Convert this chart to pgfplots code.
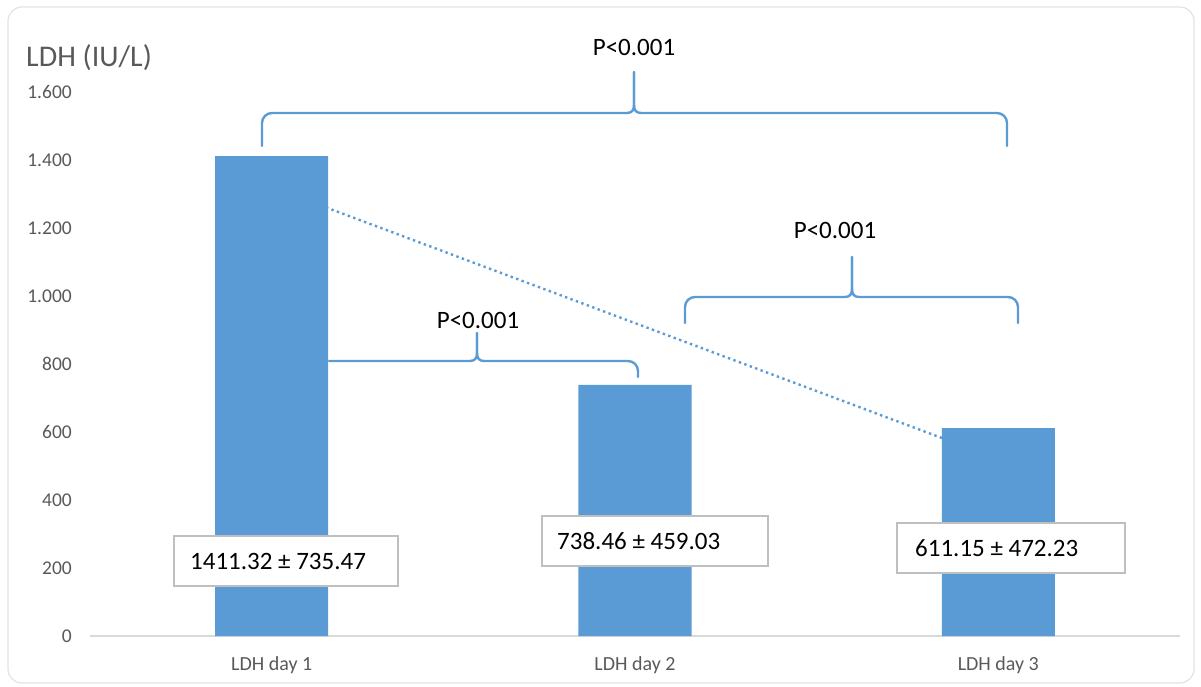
\documentclass[border=0pt]{standalone}
\usepackage{fontspec}
\setmainfont{Carlito}
\usepackage{pgfplots}
\pgfplotsset{compat=1.18}
\definecolor{barblue}{HTML}{5B9BD5}
\definecolor{txtgray}{HTML}{595959}
\definecolor{axgray}{HTML}{D9D9D9}
\definecolor{boxgray}{HTML}{BFBFBF}
\tikzset{bracestyle/.style={barblue, line width=2.4pt, line join=round, line cap=round}}
\newcommand{\Brace}[7]{% xl yb yh xt ytop xr yb2
\draw[bracestyle] (#1,#2) -- (#1,#3+10) .. controls (#1,#3+4.5) and (#1+4.5,#3) .. (#1+10,#3) -- (#4-7,#3) .. controls (#4-2,#3) and (#4,#3-3) .. (#4,#3-8) -- (#4,#5);
\draw[bracestyle] (#4,#5) -- (#4,#3-8) .. controls (#4,#3-3) and (#4+2,#3) .. (#4+7,#3) -- (#6-10,#3) .. controls (#6-4.5,#3) and (#6,#3+4.5) .. (#6,#3+10) -- (#6,#7);}
\begin{document}
\begin{tikzpicture}
\useasboundingbox (0,0) rectangle (1201pt,686pt);
\draw[gray!22, line width=1.2pt, rounded corners=14pt] (8pt,3pt) rectangle (1194pt,679pt);
\begin{axis}[
  at={(90pt,50pt)}, anchor=south west,
  scale only axis, width=1090pt, height=544pt,
  xmin=-0.5, xmax=2.5, ymin=0, ymax=1600,
  axis x line=bottom, axis y line=left,
  x axis line style={-, axgray, line width=1.2pt},
  y axis line style={draw=none},
  major tick length=0pt,
  ytick={0,200,400,600,800,1000,1200,1400,1600},
  scaled y ticks=false,
  /pgf/number format/1000 sep={.},
  /pgf/number format/assume math mode=true,
  yticklabel style={font=\fontsize{19.5}{20}\selectfont, text=txtgray, inner sep=0pt, anchor=east, xshift=-18pt},
  xtick={0,1,2},
  xticklabels={LDH day 1, LDH day 2, LDH day 3},
  xticklabel style={font=\fontsize{20}{20}\selectfont, text=txtgray, inner sep=0pt, anchor=north, yshift=-20pt},
  clip=false,
]
\addplot[barblue, line width=2.4pt, line cap=butt, dash pattern=on 2.4pt off 3.4pt] coordinates {(0,1320.40) (2,520.23)};
\addplot[ybar, bar width=113pt, bar shift=0pt, fill=barblue, draw=none] coordinates {(0,1411.32) (1,738.46) (2,611.15)};
\end{axis}
\begin{scope}[yshift=686pt, x=1pt, y=-1pt]
\Brace{262}{146}{113}{634}{72}{1007}{146}
\Brace{685}{323}{297}{852}{257}{1018}{323}
\draw[bracestyle] (329,361) -- (470,361) .. controls (475,361) and (477,358) .. (477,353) -- (477,333);
\draw[bracestyle] (477,333) -- (477,353) .. controls (477,358) and (479,361) .. (484,361) -- (628,361) .. controls (633.5,361) and (638,365.5) .. (638,371) -- (638,377);
\node[font=\fontsize{25}{25}\selectfont] at (634,47) {P<0.001};
\node[font=\fontsize{25}{25}\selectfont] at (835,230) {P<0.001};
\node[font=\fontsize{25}{25}\selectfont] at (478,320) {P<0.001};
\draw[boxgray, line width=1.4pt, fill=white] (174,536) rectangle (398,586);
\node[anchor=west, font=\fontsize{25}{25}\selectfont, inner sep=0pt] at (190,561) {1411.32 ± 735.47};
\draw[boxgray, line width=1.4pt, fill=white] (542,516) rectangle (768,566);
\node[anchor=west, font=\fontsize{25}{25}\selectfont, inner sep=0pt] at (557,541) {738.46 ± 459.03};
\draw[boxgray, line width=1.4pt, fill=white] (897,523) rectangle (1125,573);
\node[anchor=west, font=\fontsize{25}{25}\selectfont, inner sep=0pt] at (915,548) {611.15 ± 472.23};
\node[anchor=west, font=\fontsize{30}{30}\selectfont, text=txtgray, inner sep=0pt] at (26,58) {LDH (IU/L)};
\end{scope}
\end{tikzpicture}
\end{document}
